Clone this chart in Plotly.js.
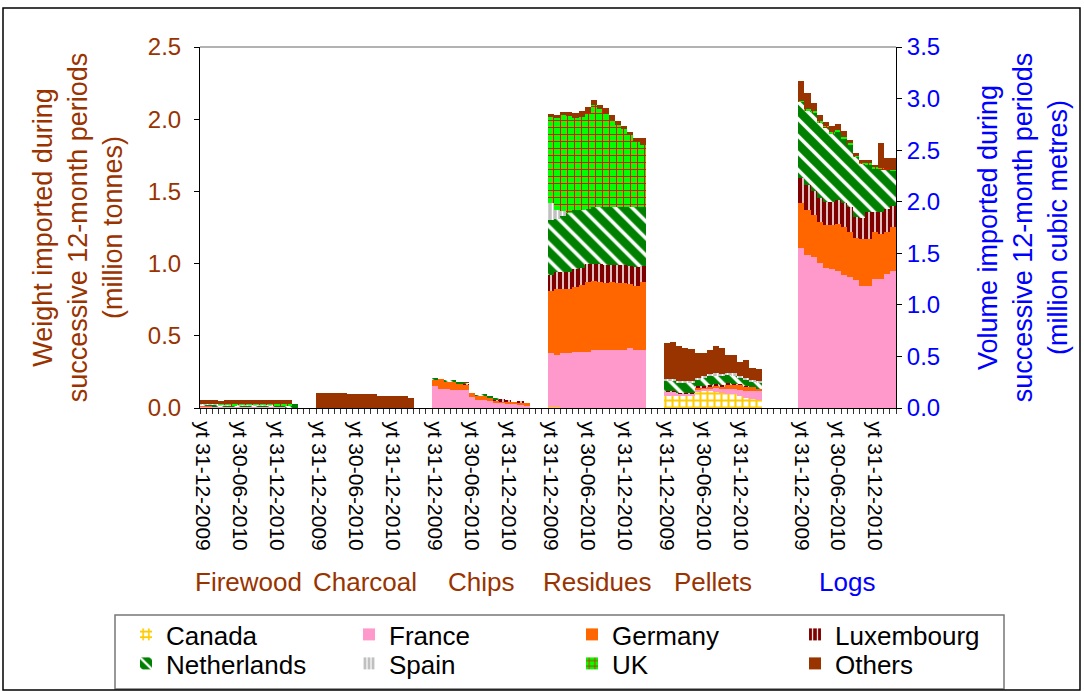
<!DOCTYPE html>
<html>
<head>
<meta charset="utf-8">
<script src="https://cdn.plot.ly/plotly-3.0.1.min.js"></script>
<style>
html,body{margin:0;padding:0;background:#ffffff;}
#chart{width:1084px;height:691px;}
</style>
</head>
<body>
<div id="chart"></div>
<script>
// ---------- data ----------
const countries = ['Canada','France','Germany','Luxembourg','Netherlands','Spain','UK','Others'];
const products = ['Firewood','Charcoal','Chips','Residues','Pellets','Logs'];
const months = ['yt 31-12-2009','yt 31-01-2010','yt 28-02-2010','yt 31-03-2010','yt 30-04-2010','yt 31-05-2010',
  'yt 30-06-2010','yt 31-07-2010','yt 31-08-2010','yt 30-09-2010','yt 31-10-2010','yt 30-11-2010',
  'yt 31-12-2010','yt 31-01-2011','yt 28-02-2011','yt 31-03-2011'];
const labelledMonths = ['yt 31-12-2009','yt 30-06-2010','yt 31-12-2010'];

// rows follow the order of `countries`; million tonnes
const firewood = [
  [0,0,0,0,0,0,0,0,0,0,0,0,0,0,0,0],
  [0.010,0.010,0.010,0.008,0.008,0.008,0.008,0.008,0.008,0.008,0.008,0.008,0.008,0.008,0.005,0],
  [0.005,0.005,0.003,0,0,0,0,0,0,0,0,0,0,0,0,0],
  [0,0,0,0,0,0,0,0,0,0,0,0,0,0,0,0],
  [0.008,0.010,0.010,0.010,0.010,0.008,0.010,0.010,0.012,0.010,0.010,0.010,0.008,0.008,0.010,0.030],
  [0.004,0.004,0.004,0.003,0.003,0.003,0.003,0.003,0.003,0.003,0.003,0.003,0.003,0.003,0.003,0],
  [0,0,0,0.004,0.006,0.008,0.004,0.006,0.008,0.006,0.004,0.008,0.010,0.012,0.010,0],
  [0.028,0.028,0.025,0.025,0.028,0.030,0.028,0.025,0.025,0.028,0.028,0.026,0.024,0.024,0.028,0]
];
const charcoal = [
  [0,0,0,0,0,0,0,0,0,0,0,0,0,0,0,0],
  [0,0,0,0,0,0,0,0,0,0,0,0,0,0,0,0],
  [0,0,0,0,0,0,0,0,0,0,0,0,0,0,0,0],
  [0,0,0,0,0,0,0,0,0,0,0,0,0,0,0,0],
  [0,0,0,0,0,0,0,0,0,0,0,0,0,0,0,0],
  [0,0,0,0,0,0,0,0,0,0,0,0,0,0,0,0],
  [0,0,0,0,0,0,0,0,0,0,0,0,0,0,0,0],
  [0.104,0.104,0.104,0.104,0.104,0.098,0.098,0.098,0.098,0.098,0.085,0.085,0.085,0.085,0.085,0.070]
];
const chips = [
  [0,0,0,0,0,0,0,0,0,0,0,0,0,0,0,0],
  [0.149,0.135,0.135,0.128,0.128,0.122,0.075,0.057,0.057,0.050,0.040,0.033,0.033,0.030,0.020,0.020],
  [0.046,0.063,0.043,0.050,0.040,0.040,0.027,0.028,0.030,0.020,0.012,0.015,0.013,0.012,0.020,0.013],
  [0,0,0,0,0,0.005,0,0,0,0,0.010,0.012,0.010,0,0.010,0],
  [0.009,0,0.016,0.015,0.012,0.008,0,0.005,0.012,0.015,0.005,0,0,0,0,0],
  [0,0,0,0,0,0,0,0,0,0,0,0,0,0,0,0],
  [0,0,0,0,0,0,0,0,0,0,0,0,0,0,0,0],
  [0,0,0,0,0,0.004,0,0,0,0,0,0,0,0,0,0]
];
const residues = [
  [0.008,0.005,0,0,0,0,0,0,0,0,0,0,0,0,0,0],
  [0.371,0.364,0.379,0.379,0.386,0.386,0.386,0.402,0.402,0.402,0.402,0.402,0.402,0.415,0.404,0.404],
  [0.431,0.453,0.445,0.445,0.454,0.464,0.484,0.475,0.468,0.462,0.471,0.462,0.462,0.444,0.441,0.469],
  [0.111,0.122,0.120,0.120,0.125,0.122,0.130,0.123,0.125,0.126,0.117,0.126,0.126,0.121,0.130,0.107],
  [0.381,0.366,0.386,0.406,0.405,0.398,0.380,0.390,0.395,0.400,0.400,0.400,0.400,0.410,0.415,0.410],
  [0.115,0.058,0.035,0,0,0,0,0,0,0,0,0,0,0,0,0],
  [0.596,0.638,0.664,0.672,0.636,0.643,0.665,0.708,0.678,0.646,0.604,0.570,0.540,0.501,0.454,0.431],
  [0.023,0.024,0.021,0.028,0.034,0.047,0.040,0.032,0.032,0.044,0.036,0.030,0.020,0.019,0.026,0.049]
];
const pellets = [
  [0.080,0.080,0.080,0.080,0.080,0.110,0.115,0.115,0.110,0.105,0.100,0.095,0.085,0.070,0.065,0.055],
  [0.035,0.035,0.020,0.020,0.020,0.020,0.020,0.020,0.030,0.030,0.035,0.035,0.040,0.045,0.050,0.060],
  [0,0,0,0,0,0.010,0.010,0.015,0.015,0.015,0.030,0.030,0.035,0.035,0.030,0.020],
  [0.005,0.005,0.005,0.005,0.005,0.010,0.010,0.010,0.010,0.010,0.005,0.005,0.005,0.005,0,0],
  [0.065,0.065,0.065,0.065,0.065,0.045,0.050,0.060,0.060,0.060,0.060,0.060,0.045,0.040,0.040,0.040],
  [0.015,0.015,0.015,0.015,0.015,0.015,0.015,0.015,0.015,0.015,0.015,0.015,0.015,0.015,0.010,0.010],
  [0,0,0,0,0,0,0,0,0,0,0,0,0,0,0,0],
  [0.252,0.257,0.246,0.232,0.224,0.173,0.163,0.165,0.190,0.183,0.124,0.125,0.095,0.122,0.080,0.085]
];
// million cubic metres (right axis)
const logs = [
  [0,0,0,0,0,0,0,0,0,0,0,0,0,0,0,0],
  [1.554,1.483,1.467,1.403,1.360,1.348,1.331,1.290,1.273,1.241,1.186,1.186,1.248,1.248,1.299,1.328],
  [0.436,0.437,0.404,0.403,0.414,0.426,0.453,0.468,0.437,0.404,0.453,0.453,0.462,0.439,0.411,0.430],
  [0.237,0.242,0.233,0.233,0.220,0.220,0.233,0.227,0.242,0.210,0.200,0.264,0.193,0.213,0.216,0.200],
  [0.743,0.727,0.753,0.721,0.718,0.669,0.662,0.630,0.598,0.575,0.533,0.453,0.421,0.408,0.382,0.342],
  [0,0,0,0,0,0,0,0,0,0,0,0,0,0,0,0],
  [0.010,0.010,0.020,0.020,0.020,0.015,0.020,0.015,0.020,0.020,0.015,0.020,0.010,0.020,0.010,0.010],
  [0.190,0.158,0.083,0.060,0.044,0.056,0.054,0.056,0.028,0.019,0.017,0.028,0.020,0.244,0.102,0.110]
];
const weightTables = [firewood, charcoal, chips, residues, pellets];
const gapsAfter = [3,3,3,3,6,0];

// ---------- styles ----------
const FONT = 'Liberation Sans, Arial, Helvetica, sans-serif';
const BROWN = '#993300';
const BLUE = '#0000FF';
const styles = {
  Canada:      {color:'#FFCC00', pattern:{shape:'+', fgcolor:'#FFCC00', bgcolor:'#FFFFFF', size:7, solidity:0.5}},
  France:      {color:'#FF99CC'},
  Germany:     {color:'#FF6600'},
  Luxembourg:  {color:'#800000', pattern:{shape:'|', fgcolor:'#FFFFFF', bgcolor:'#800000', size:6, solidity:0.25}},
  Netherlands: {color:'#008000', pattern:{shape:'\\', fgcolor:'#FFFFFF', bgcolor:'#008000', size:12, solidity:0.3}},
  Spain:       {color:'#C0C0C0', pattern:{shape:'|', fgcolor:'#FFFFFF', bgcolor:'#C0C0C0', size:5, solidity:0.3}},
  UK:          {color:'#00FF00', pattern:{shape:'+', fgcolor:'#FF0000', bgcolor:'#00FF00', size:7, solidity:0.25}},
  Others:      {color:'#993300'}
};

// ---------- categories ----------
const cats = [];
const tickText = [];
products.forEach((p, i) => {
  months.forEach(m => { cats.push(p + ' ' + m); tickText.push(labelledMonths.includes(m) ? m : ''); });
  for (let g = 0; g < gapsAfter[i]; g++) { cats.push('gap ' + i + '-' + g); tickText.push(''); }
});

// ---------- traces ----------
const traces = [];
countries.forEach((c, ci) => {
  const xs = [], ys = [];
  weightTables.forEach((tbl, pi) => {
    months.forEach((m, mi) => { xs.push(products[pi] + ' ' + m); ys.push(tbl[ci][mi]); });
  });
  const marker = {color: styles[c].color, line: {width: 0}};
  if (styles[c].pattern) marker.pattern = styles[c].pattern;
  traces.push({
    type: 'bar', name: c, x: xs, y: ys, xaxis: 'x', yaxis: 'y',
    marker: marker, legendgroup: c, legend: ci < 4 ? 'legend' : 'legend2',
    hoverinfo: 'name+x+y'
  });
  traces.push({
    type: 'bar', name: c, x: months.map(m => 'Logs ' + m), y: logs[ci], xaxis: 'x', yaxis: 'y2',
    marker: marker, legendgroup: c, showlegend: false, hoverinfo: 'name+x+y'
  });
});

// ---------- layout helpers (pixel -> paper) ----------
const L = 200, R = 896, T = 47, B = 408;
const px = v => (v - L) / (R - L);
const py = v => (B - v) / (B - T);

const annotations = products.map((p, i) => {
  const first = cats.indexOf(p + ' ' + months[0]);
  return {
    text: p, xref: 'x', yref: 'paper', x: first + 7.5, y: py(582),
    xanchor: 'center', yanchor: 'middle', showarrow: false,
    font: {family: FONT, size: 26, color: p === 'Logs' ? BLUE : BROWN}
  };
});

const legendCommon = {
  orientation: 'h', xanchor: 'left', yanchor: 'top', entrywidth: 178,
  font: {family: FONT, size: 26, color: '#000'}, bgcolor: 'rgba(0,0,0,0)', borderwidth: 0,
  itemclick: false, itemdoubleclick: false, traceorder: 'normal'
};

const layout = {
  width: 1084, height: 691,
  margin: {l: L, r: 1084 - R, t: T, b: 691 - B, autoexpand: false},
  paper_bgcolor: '#ffffff', plot_bgcolor: '#ffffff',
  font: {family: FONT, color: '#000'},
  barmode: 'stack', bargap: 0,
  showlegend: true,
  legend: Object.assign({}, legendCommon, {x: px(126), y: py(611)}),
  legend2: Object.assign({}, legendCommon, {x: px(126), y: py(640)}),
  xaxis: {
    type: 'category', categoryorder: 'array', categoryarray: cats,
    range: [-0.5, cats.length - 0.5],
    tickmode: 'array', tickvals: cats, ticktext: tickText, tickson: 'boundaries',
    ticks: 'outside', ticklen: 5, tickcolor: '#333', tickangle: 90, ticklabelstandoff: 8,
    tickfont: {family: FONT, size: 21, color: '#000'},
    showline: true, linecolor: '#000', linewidth: 1, showgrid: false, zeroline: false, fixedrange: true
  },
  yaxis: {
    range: [0, 2.5], tick0: 0, dtick: 0.5, tickformat: '.1f',
    ticks: 'outside', ticklen: 5, tickcolor: '#000', ticklabelstandoff: 8,
    tickfont: {family: FONT, size: 24, color: BROWN},
    showline: true, linecolor: '#000', linewidth: 1, showgrid: false, zeroline: false, fixedrange: true,
    title: {text: 'Weight imported during<br>successive 12-month periods<br>(million tonnes)',
            font: {family: FONT, size: 27, color: BROWN}, standoff: 17}
  },
  yaxis2: {
    overlaying: 'y', side: 'right', anchor: 'x',
    range: [0, 3.5], tick0: 0, dtick: 0.5, tickformat: '.1f',
    ticks: 'outside', ticklen: 5, tickcolor: '#000',
    tickfont: {family: FONT, size: 24, color: BLUE},
    showline: true, linecolor: '#000', linewidth: 1, showgrid: false, zeroline: false, fixedrange: true,
    title: {text: 'Volume imported during<br>successive 12-month periods<br>(million cubic metres)',
            font: {family: FONT, size: 27, color: BLUE}, standoff: 38}
  },
  annotations: annotations,
  shapes: [
    {type: 'line', xref: 'paper', yref: 'paper', x0: 0, x1: 1, y0: 1, y1: 1, line: {color: '#999999', width: 1.5}},
    {type: 'rect', xref: 'paper', yref: 'paper', x0: px(115), x1: px(1004), y0: py(689), y1: py(615),
     line: {color: '#777777', width: 1.5}, fillcolor: 'rgba(0,0,0,0)'},
    {type: 'rect', xref: 'paper', yref: 'paper', x0: px(3), x1: px(1080), y0: py(690), y1: py(8),
     line: {color: '#000000', width: 1.5}, fillcolor: 'rgba(0,0,0,0)'}
  ]
};

Plotly.newPlot('chart', traces, layout, {displayModeBar: false, responsive: false});
</script>
</body>
</html>
